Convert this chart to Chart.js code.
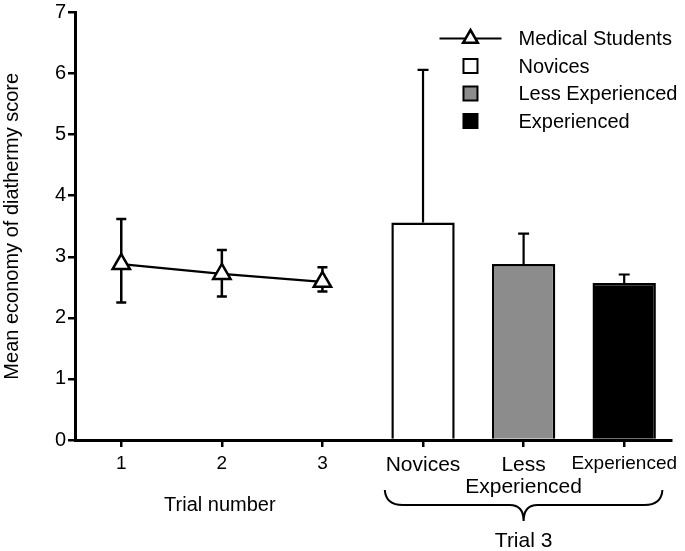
<!DOCTYPE html>
<html>
<head>
<meta charset="utf-8">
<script src="https://cdn.jsdelivr.net/npm/chart.js@4"></script>
<style>
  html, body { margin: 0; padding: 0; background: #fff; }
  canvas { display: block; }
</style>
</head>
<body>
<canvas id="chart" width="685" height="551"></canvas>
<script>
// x categories: three trials, then the three trial-3 groups
const categories = ["1", "2", "3", "Novices", ["Less", "Experienced"], "Experienced"];

// medical students, trials 1-3 (mean with lower / upper error)
const studentMeans = [2.88, 2.72, 2.59];
const studentLow = [2.25, 2.35, 2.43];
const studentHigh = [3.62, 3.11, 2.83];

// surgeons at trial 3 (mean with upper error)
const groupNames = ["Novices", "Less Experienced", "Experienced"];
const groupMeans = [3.56, 2.88, 2.57];
const groupHigh = [6.06, 3.38, 2.71];
const groupColors = ["#ffffff", "#8c8c8c", "#000000"];

const yTicks = [0, 1, 2, 3, 4, 5, 6, 7];

const FONT = "'Liberation Sans', Arial, Helvetica, sans-serif";

// --- datasets ---
const lineData = categories.map((c, i) => (i < studentMeans.length ? studentMeans[i] : null));

const barSets = groupNames.map((name, g) => ({
  type: "bar",
  label: name,
  data: categories.map((c, i) => (i === 3 + g ? groupMeans[g] : null)),
  backgroundColor: groupColors[g],
  borderColor: "#000",
  borderWidth: 2.5,
  grouped: false,
  barPercentage: 0.63,
  categoryPercentage: 1,
  order: 2,
}));

function triangle(ctx, x, y, r) {
  ctx.beginPath();
  ctx.moveTo(x, y - r);
  ctx.lineTo(x + r * Math.sin(2 * Math.PI / 3), y - r * Math.cos(2 * Math.PI / 3));
  ctx.lineTo(x + r * Math.sin(4 * Math.PI / 3), y - r * Math.cos(4 * Math.PI / 3));
  ctx.closePath();
  ctx.fillStyle = "#fff";
  ctx.fill();
  ctx.lineWidth = 2.5;
  ctx.strokeStyle = "#000";
  ctx.stroke();
}

// error bars: students under the markers, groups on top of the bars
const errorBars = {
  id: "errorBars",
  beforeDatasetsDraw(chart) {
    const { ctx, scales: { x, y } } = chart;
    ctx.save();
    ctx.strokeStyle = "#000";
    ctx.lineWidth = 2.5;
    studentMeans.forEach((m, i) => {
      const px = x.getPixelForValue(i);
      const lo = y.getPixelForValue(studentLow[i]);
      const hi = y.getPixelForValue(studentHigh[i]);
      ctx.beginPath();
      ctx.moveTo(px, lo); ctx.lineTo(px, hi);
      ctx.moveTo(px - 5, lo); ctx.lineTo(px + 5, lo);
      ctx.moveTo(px - 5, hi); ctx.lineTo(px + 5, hi);
      ctx.stroke();
    });
    ctx.restore();
  },
  afterDatasetsDraw(chart) {
    const { ctx, scales: { x, y } } = chart;
    ctx.save();
    ctx.strokeStyle = "#000";
    ctx.lineWidth = 2.2;
    groupMeans.forEach((m, g) => {
      const px = x.getPixelForValue(3 + g);
      const top = y.getPixelForValue(m);
      const hi = y.getPixelForValue(groupHigh[g]);
      ctx.beginPath();
      ctx.moveTo(px, top); ctx.lineTo(px, hi);
      ctx.moveTo(px - 5.5, hi); ctx.lineTo(px + 5.5, hi);
      ctx.stroke();
    });
    ctx.restore();
  },
};

// legend in the top right corner, brace and group captions under the axis
const extras = {
  id: "extras",
  afterDraw(chart) {
    const { ctx, chartArea, scales: { x } } = chart;
    ctx.save();

    const x0 = chartArea.right - 232;
    const rowY = (i) => chartArea.top + 26 + i * 27.5;
    ctx.font = "20px " + FONT;
    ctx.textBaseline = "middle";
    ctx.textAlign = "left";
    ctx.fillStyle = "#000";

    ctx.strokeStyle = "#000";
    ctx.lineWidth = 2.2;
    ctx.beginPath();
    ctx.moveTo(x0, rowY(0)); ctx.lineTo(x0 + 62, rowY(0));
    ctx.stroke();
    triangle(ctx, x0 + 31, rowY(0), 8.5);
    ctx.fillStyle = "#000";
    ctx.fillText(chart.data.datasets[0].label, x0 + 79, rowY(0) + 1);

    groupNames.forEach((name, g) => {
      const cy = rowY(g + 1);
      ctx.fillStyle = groupColors[g];
      ctx.fillRect(x0 + 24, cy - 7, 14, 14);
      ctx.lineWidth = 2;
      ctx.strokeStyle = "#000";
      ctx.strokeRect(x0 + 24, cy - 7, 14, 14);
      ctx.fillStyle = "#000";
      ctx.fillText(name, x0 + 79, cy + 1);
    });

    // "Trial number" under the trials
    ctx.textAlign = "center";
    ctx.font = "20px " + FONT;
    ctx.fillText("Trial number", x.getPixelForValue(1) - 2, 505);

    // brace under the three groups
    const step = x.getPixelForValue(4) - x.getPixelForValue(3);
    const L = x.getPixelForValue(3) - 0.38 * step;
    const R = x.getPixelForValue(5) + 0.38 * step;
    const M = (L + R) / 2;
    const yt = 490, ym = 505, yb = 521;
    ctx.beginPath();
    ctx.moveTo(L, yt);
    ctx.quadraticCurveTo(L + 1, ym, L + 18, ym);
    ctx.lineTo(M - 14, ym);
    ctx.quadraticCurveTo(M, ym, M, yb);
    ctx.quadraticCurveTo(M, ym, M + 14, ym);
    ctx.lineTo(R - 18, ym);
    ctx.quadraticCurveTo(R - 1, ym, R, yt);
    ctx.lineWidth = 2;
    ctx.strokeStyle = "#000";
    ctx.stroke();

    ctx.font = "21px " + FONT;
    ctx.fillText("Trial 3", M, 541);
    ctx.restore();
  },
};

new Chart(document.getElementById("chart"), {
  type: "bar",
  data: {
    labels: categories,
    datasets: [
      {
        type: "line",
        label: "Medical Students",
        data: lineData,
        borderColor: "#000",
        borderWidth: 2.2,
        pointStyle: "triangle",
        pointRadius: 10,
        pointBackgroundColor: "#fff",
        pointBorderColor: "#000",
        pointBorderWidth: 2.5,
        spanGaps: false,
        order: 1,
      },
      ...barSets,
    ],
  },
  options: {
    responsive: false,
    animation: false,
    devicePixelRatio: 1,
    layout: { padding: { top: 0, right: 5, bottom: 0, left: 0 } },
    plugins: {
      legend: { display: false },
      tooltip: { enabled: false },
    },
    scales: {
      x: {
        offset: true,
        afterFit: (s) => { s.height = 111; },
        // first category sits a bit closer to the y axis than a plain offset gives
        afterBuildTicks: (s) => { s._startValue = -0.46; s._valueRange = 5.93; },
        border: { color: "#000", width: 3 },
        grid: { drawOnChartArea: false, drawTicks: true, tickLength: 7, color: "#000", lineWidth: 2.5, offset: false },
        ticks: {
          color: "#000",
          padding: 7,
          maxRotation: 0,
          autoSkip: false,
          font: (c) => ({
            family: FONT,
            size: c.index < 3 ? 19 : c.index === 5 ? 19 : 21,
            lineHeight: 1.05,
          }),
        },
      },
      y: {
        min: 0,
        max: 7,
        afterFit: (s) => { s.width = 75; },
        afterBuildTicks: (s) => { s.ticks = yTicks.map((v) => ({ value: v })); },
        border: { color: "#000", width: 3 },
        grid: { drawOnChartArea: false, drawTicks: true, tickLength: 7, color: "#000", lineWidth: 2.5 },
        ticks: { color: "#000", padding: 2, font: { family: FONT, size: 20, lineHeight: 0.8 } },
        title: {
          display: true,
          text: "Mean economy of diathermy score",
          color: "#000",
          font: { family: FONT, size: 20 },
          padding: 0,
        },
      },
    },
  },
  plugins: [errorBars, extras],
});
</script>
</body>
</html>
